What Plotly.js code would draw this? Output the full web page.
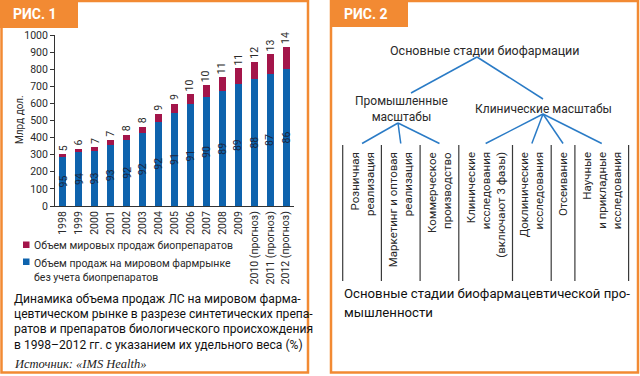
<!DOCTYPE html>
<html>
<head>
<meta charset="utf-8">
<script src="https://cdn.plot.ly/plotly-3.0.1.min.js"></script>
<style>html,body{margin:0;padding:0;background:#fff;}#chart{width:640px;height:376px;}</style>
</head>
<body>
<div id="chart"></div>
<script>
// ---------- DATA (Рис. 1) ----------
const years = ['1998','1999','2000','2001','2002','2003','2004','2005','2006','2007','2008','2009','2010 (прогноз)','2011 (прогноз)','2012 (прогноз)'];
const nonBioSales = [287, 315, 320, 358, 386, 426, 490, 545, 595, 637, 673, 715, 744, 773, 802];
const bioSales    = [16, 20, 24, 28, 32, 38, 47, 54, 60, 71, 82, 90, 101, 114, 128];
const nonBioShare = [95, 94, 93, 93, 92, 92, 92, 91, 91, 90, 89, 89, 88, 87, 86];
const bioShare    = [5, 6, 7, 7, 8, 8, 9, 9, 10, 10, 11, 11, 12, 13, 14];
const seriesNames = ['Объем продаж на мировом фармрынке<br>без учета биопрепаратов', 'Объем мировых продаж биопрепаратов'];
const yTitle = 'Млрд дол.';
const fig1Tab = 'РИС. 1';
const fig1Caption = ['Динамика объема продаж ЛС на мировом фарма-', 'цевтическом рынке в разрезе синтетических препа-', 'ратов и препаратов биологического происхождения', 'в 1998–2012 гг. с указанием их удельного веса (%)'];
const fig1Source = 'Источник: «IMS Health»';

// ---------- DATA (Рис. 2) ----------
const fig2Tab = 'РИС. 2';
const rootLabel = 'Основные стадии биофармации';
const branchLabels = ['Промышленные<br>масштабы', 'Клинические масштабы'];
const stageLabels = [['Розничная','реализация'], ['Маркетинг и оптовая','реализация'], ['Коммерческое','производство'], ['Клинические','исследования','(включают 3 фазы)'], ['Доклинические','исследования'], ['Отсеивание'], ['Научные','и прикладные','исследования']];
const stageBranch = [0,0,0,1,1,1,1];
const fig2Caption = ['Основные стадии биофармацевтической про-', 'мышленности'];

// ---------- STYLE ----------
const W = 640, H = 376;
const px = x => x / W, py = y => 1 - y / H;
const ORANGE = '#f28a33', BLUE = '#0e63ad', RED = '#a3154a', LINEBLUE = '#2a7bc6', TXT = '#2a2a2a';
const FONT = 'Roboto, "Noto Sans", sans-serif';

const traces = [
  {type:'bar', name: seriesNames[0], x: years, y: nonBioSales, marker:{color: BLUE}, showlegend:false, hoverinfo:'x+y'},
  {type:'bar', name: seriesNames[1], x: years, y: bioSales, marker:{color: RED}, showlegend:false, hoverinfo:'x+y'}
];

const shapes = [];
const ann = [];
const note = (o) => ann.push(Object.assign({xref:'paper', yref:'paper', showarrow:false, xanchor:'center', yanchor:'middle'}, o));

// frames
shapes.push({type:'rect', xref:'paper', yref:'paper', x0:px(1.5), x1:px(308), y0:py(1), y1:py(372.5), line:{color:ORANGE, width:2.5}});
shapes.push({type:'rect', xref:'paper', yref:'paper', x0:px(0), x1:px(78), y0:py(0), y1:py(28), fillcolor:ORANGE, line:{width:0}});
shapes.push({type:'rect', xref:'paper', yref:'paper', x0:px(331), x1:px(638), y0:py(1), y1:py(372.5), line:{color:ORANGE, width:2.5}});
shapes.push({type:'rect', xref:'paper', yref:'paper', x0:px(330), x1:px(408), y0:py(0), y1:py(27), fillcolor:ORANGE, line:{width:0}});
note({x:px(35), y:py(14), text:'<b>'+fig1Tab+'</b>', font:{family:FONT, size:14, color:'#fff'}});
note({x:px(366), y:py(14), text:'<b>'+fig2Tab+'</b>', font:{family:FONT, size:14, color:'#fff'}});

// y-axis title
note({x:px(19), y:py(120), textangle:-90, text: yTitle, font:{family:FONT, size:10, color:TXT}});

// bar labels (x given as category index)
years.forEach((yr, i) => {
  const total = nonBioSales[i] + bioSales[i];
  ann.push({xref:'x', yref:'y', x: i, y: total, xanchor:'center', yanchor:'bottom', yshift:1, textangle:-90, text: String(bioShare[i]), showarrow:false, font:{family:FONT, size:10.5, color:TXT}});
  ann.push({xref:'x', yref:'y', x: i, y: nonBioSales[i] / 2, xanchor:'center', yanchor:'middle', textangle:-90, text: String(nonBioShare[i]), showarrow:false, font:{family:FONT, size:10.5, color:'#1b2740'}});
});

// legend (manual)
shapes.push({type:'rect', xref:'paper', yref:'paper', x0:px(23), x1:px(29.5), y0:py(241.5), y1:py(248), fillcolor:RED, line:{width:0}});
shapes.push({type:'rect', xref:'paper', yref:'paper', x0:px(23), x1:px(29.5), y0:py(258.5), y1:py(265), fillcolor:BLUE, line:{width:0}});
note({x:px(32), y:py(245.5), xanchor:'left', text: seriesNames[1], font:{family:FONT, size:10.5, color:TXT}});
note({x:px(32), y:py(255), xanchor:'left', yanchor:'top', align:'left', text: seriesNames[0], font:{family:FONT, size:10.5, color:TXT}});

// caption fig 1
fig1Caption.forEach((t, i) => {
  note({x:px(12), y:py(298.5 + i*15.4), xanchor:'left', text:t, font:{family:FONT, size:12.1, color:'#111'}});
});
note({x:px(12), y:py(364), xanchor:'left', text:'<i>'+fig1Source+'</i>', font:{family:'"Liberation Serif", serif', size:12.5, color:'#222'}});

// ---------- Рис. 2 tree ----------
note({x:px(485), y:py(50), text: rootLabel, font:{family:FONT, size:12.5, color:TXT}});
note({x:px(401), y:py(108.5), text: branchLabels[0], font:{family:FONT, size:12, color:TXT}});
note({x:px(543.5), y:py(108.5), text: branchLabels[1], font:{family:FONT, size:12, color:TXT}});

const lineSty = {color: LINEBLUE, width: 1.5};
const seg = (x0,y0,x1,y1,l) => shapes.push({type:'line', xref:'paper', yref:'paper', x0:px(x0), y0:py(y0), x1:px(x1), y1:py(y1), line:l});
const rootApex = [477, 57];
const branchTops = [[411, 93], [543, 99]];
const branchApex = [[398, 123], [543, 114]];
branchTops.forEach(b => seg(rootApex[0], rootApex[1], b[0], b[1], lineSty));

let colX = 342.7;
const colTop = 145, colBottom = 281;
const bounds = [colX];
const centers = [];
stageLabels.forEach(lines => {
  const w = 15 * lines.length + 8.7;
  centers.push(colX + w / 2);
  colX += w;
  bounds.push(colX);
});
bounds.forEach(bx => seg(bx, colTop, bx, colBottom, {color:'#3a3a3a', width:1.2}));
stageLabels.forEach((lines, i) => {
  const a = branchApex[stageBranch[i]];
  seg(a[0], a[1], centers[i], 143.5, lineSty);
  note({x:px(centers[i]), y:py(150), yanchor:'top', textangle:-90, align:'right', text: lines.join('<br>'), font:{family:FONT, size:11.5, color:TXT}});
});

fig2Caption.forEach((t, i) => {
  note({x:px(342), y:py(293.5 + i*18.5), xanchor:'left', text:t, font:{family:FONT, size:13.2, color:'#111'}});
});

const layout = {
  width: W, height: H,
  margin: {l:0, r:0, t:0, b:0},
  paper_bgcolor: '#fff', plot_bgcolor: 'rgba(0,0,0,0)',
  barmode: 'stack', bargap: 0.56,
  font: {family: FONT, color: TXT},
  showlegend: false,
  xaxis: {domain:[px(55), px(294)], type:'category', range:[-0.5, 14.5], autorange:false, tickangle:-90, showline:true, linecolor:'#333', linewidth:1, ticks:'', tickfont:{family:FONT, size:10.5, color:TXT}, showgrid:false, fixedrange:true, automargin:false},
  yaxis: {domain:[py(206), py(35)], range:[0,1000], autorange:false, dtick:100, showline:true, linecolor:'#333', linewidth:1, ticks:'outside', ticklen:4, tickcolor:'#333', tickfont:{family:FONT, size:10.5, color:TXT}, showgrid:false, zeroline:false, automargin:false, fixedrange:true},
  shapes: shapes,
  annotations: ann
};

Plotly.newPlot('chart', traces, layout, {displayModeBar:false, staticPlot:true});
</script>
</body>
</html>
